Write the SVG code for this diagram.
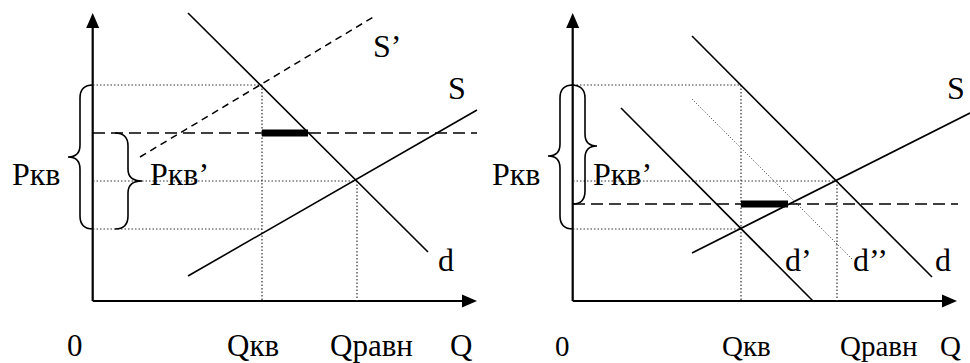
<svg xmlns="http://www.w3.org/2000/svg" width="970" height="363" viewBox="0 0 970 363">
<style>
text{font-family:"Liberation Serif","Times New Roman",serif;fill:#000}
.l{font-size:32px}
.b{font-size:31px}
.r{font-size:29px}
.ln{stroke:#000;stroke-width:1.6;fill:none}
.ax{stroke:#000;stroke-width:2.2;fill:none}
.ds{stroke:#000;stroke-width:1.6;stroke-dasharray:12 6;fill:none}
.ds2{stroke:#000;stroke-width:1.5;stroke-dasharray:7 5;fill:none}
.dt{stroke:#333;stroke-width:1.2;stroke-dasharray:1.5 2;fill:none}
.dt2{stroke:#333;stroke-width:1;stroke-dasharray:1 2;fill:none}
.bar{stroke:#000;stroke-width:7;fill:none}
.ah{fill:#000}
</style>
<rect width="970" height="363" fill="#fff"/>
<g id="chart-left">
  <g id="axes-left">
    <line class="ax" x1="92.7" y1="26" x2="92.7" y2="301"/>
    <line class="ax" x1="92.7" y1="301" x2="464" y2="301"/>
    <polygon class="ah" points="92.7,13 86.2,28 99.2,28"/>
    <polygon class="ah" points="477,301 462,294.5 462,307.5"/>
  </g>
  <g id="guides-left">
    <line class="dt" x1="93" y1="85" x2="262" y2="85"/>
    <line class="dt" x1="262" y1="85" x2="262" y2="301"/>
    <line class="dt" x1="93" y1="181" x2="357" y2="181"/>
    <line class="dt" x1="357" y1="181" x2="357" y2="301"/>
    <line class="dt" x1="93" y1="229" x2="262" y2="229"/>
  </g>
  <g id="curves-left">
    <line id="d-left" class="ln" x1="188" y1="13" x2="428" y2="252"/>
    <line id="S-left" class="ln" x1="188" y1="276" x2="477" y2="110"/>
    <line id="S2-left" class="ds2" x1="140" y1="157" x2="375" y2="16"/>
    <line id="price-left" class="ds" x1="93" y1="133" x2="477" y2="133"/>
    <line id="deficit-left" class="bar" x1="262" y1="133" x2="308" y2="133"/>
  </g>
  <g id="braces-left">
    <path class="ln" d="M93,85 Q80,85 80,98 L80,145 Q80,157 68,157 Q80,157 80,169 L80,216 Q80,229 93,229"/>
    <path class="ln" d="M115,133 Q128,133 128,146 L128,169 Q128,181 142,181 Q128,181 128,193 L128,216 Q128,229 115,229"/>
  </g>
  <g id="labels-left">
    <text class="l" x="12" y="185">Pкв</text>
    <text class="l" x="150" y="185">Pкв’</text>
    <text class="l" x="373" y="57">S’</text>
    <text class="l" x="448" y="99">S</text>
    <text class="l" x="438" y="271">d</text>
    <text class="b" x="67" y="356">0</text>
    <text class="b" x="227" y="356">Qкв</text>
    <text class="b" x="330" y="356">Qравн</text>
    <text class="b" x="450" y="356">Q</text>
  </g>
</g>
<g id="chart-right">
  <g id="axes-right">
    <line class="ax" x1="572.7" y1="26" x2="572.7" y2="301"/>
    <line class="ax" x1="572.7" y1="301" x2="944" y2="301"/>
    <polygon class="ah" points="572.7,13 566.2,28 579.2,28"/>
    <polygon class="ah" points="957,301 942,294.5 942,307.5"/>
  </g>
  <g id="guides-right">
    <line class="dt" x1="573" y1="85" x2="741" y2="85"/>
    <line class="dt" x1="741" y1="85" x2="741" y2="301"/>
    <line class="dt" x1="573" y1="181" x2="837" y2="181"/>
    <line class="dt" x1="837" y1="181" x2="837" y2="301"/>
    <line class="dt" x1="573" y1="229" x2="741" y2="229"/>
  </g>
  <g id="curves-right">
    <line id="d-right" class="ln" x1="692" y1="36" x2="932" y2="277"/>
    <line id="d2-right" class="dt2" x1="692" y1="99" x2="853" y2="260"/>
    <line id="d1-right" class="ln" x1="621" y1="108" x2="813" y2="301"/>
    <line id="S-right" class="ln" x1="692" y1="253" x2="970" y2="113"/>
    <line id="price-right" class="ds" x1="573" y1="204" x2="958" y2="204"/>
    <line id="surplus-right" class="bar" x1="741" y1="204" x2="788" y2="204"/>
  </g>
  <g id="braces-right">
    <path class="ln" d="M573,85 Q560,85 560,98 L560,144 Q560,156 548,156 Q560,156 560,168 L560,216 Q560,229 573,229"/>
    <path class="ln" d="M571,85 Q585,85 585,98 L585,134 Q585,146 597,146 Q585,146 585,158 L585,191 Q585,204 573,204"/>
  </g>
  <g id="labels-right">
    <text class="l" x="492" y="185">Pкв</text>
    <text class="l" x="593" y="185">Pкв’</text>
    <text class="l" x="947" y="99">S</text>
    <text class="l" x="785" y="271">d’</text>
    <text class="l" x="853" y="271">d’’</text>
    <text class="l" x="935" y="271">d</text>
    <text class="r" x="555" y="356">0</text>
    <text class="r" x="722" y="356">Qкв</text>
    <text class="r" x="840" y="356">Qравн</text>
    <text class="r" x="940" y="356">Q</text>
  </g>
</g>
</svg>
